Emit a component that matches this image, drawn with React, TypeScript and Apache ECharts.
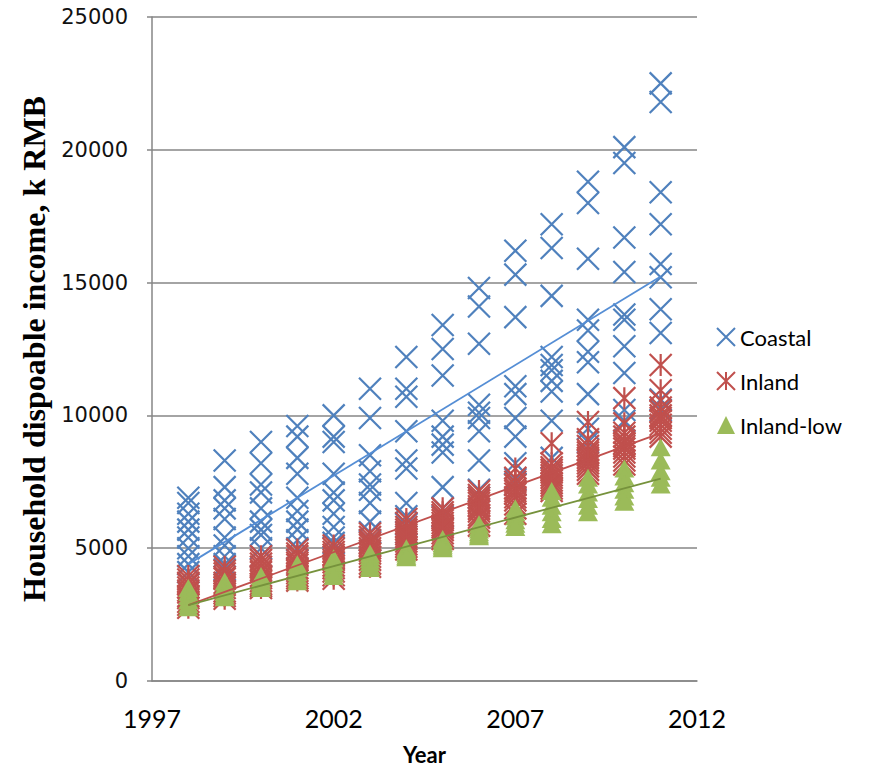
import React, { useEffect, useRef } from "react";
import * as echarts from "echarts";

// Survey years (one column of markers per year)
const years = [1998, 1999, 2000, 2001, 2002, 2003, 2004, 2005, 2006, 2007, 2008, 2009, 2010, 2011];

// Household disposable income by province group, k RMB (one row per year)
const coastal: number[][] = [
  [6900, 6700, 6300, 6000, 5700, 5400, 5000, 4700, 4400, 4100],
  [8300, 7300, 6800, 6500, 6100, 5400, 5100, 4700, 4400, 4200],
  [9000, 8200, 7400, 7100, 6500, 6000, 5700, 5500, 5000, 4700],
  [9600, 9200, 8400, 7800, 6900, 6400, 6000, 5700, 5300, 5000],
  [10000, 9200, 9000, 7800, 7100, 6800, 6300, 5800, 5400, 5200],
  [11000, 9900, 8500, 7900, 7400, 7200, 6700, 6000, 5600, 5300],
  [12200, 11000, 10700, 9400, 8300, 8000, 6700, 6200, 5900, 5600],
  [13400, 12500, 11500, 9800, 9200, 8900, 8600, 7300, 6500, 6200],
  [14800, 14100, 12700, 10400, 10100, 9900, 9400, 8300, 7200, 6900],
  [16200, 15300, 13700, 11100, 10800, 9900, 9200, 8200, 7600, 7400],
  [17200, 16300, 14500, 12200, 11900, 11700, 11300, 10900, 9800, 8400],
  [18800, 18000, 15900, 13600, 13200, 12400, 12000, 10800, 9500, 9000],
  [20100, 19500, 16700, 15400, 13800, 13600, 12600, 11600, 10200, 9800],
  [22500, 21800, 18400, 17200, 15700, 15200, 14000, 13100, 10600, 10200],
];

const inland: number[][] = [
  [3950, 3820, 3700, 3640, 3520, 3410, 3330, 3200, 3120, 2980, 2870, 2760],
  [4300, 4150, 4050, 3920, 3850, 3700, 3620, 3500, 3380, 3300, 3200, 3100],
  [4700, 4560, 4420, 4300, 4180, 4100, 3960, 3880, 3760, 3650, 3580, 3500],
  [4950, 4800, 4700, 4560, 4450, 4380, 4250, 4150, 4060, 3950, 3870, 3780],
  [5100, 4980, 4860, 4750, 4680, 4560, 4470, 4350, 4250, 4120, 3980, 3850],
  [5550, 5420, 5300, 5200, 5120, 5000, 4900, 4800, 4680, 4560, 4420, 4300],
  [6100, 5950, 5800, 5700, 5600, 5520, 5430, 5350, 5250, 5150, 5050, 4950],
  [6500, 6350, 6250, 6150, 6050, 5950, 5850, 5780, 5680, 5560, 5450, 5350],
  [7150, 7000, 6900, 6800, 6700, 6580, 6480, 6380, 6250, 6150, 6000, 5850],
  [8000, 7650, 7500, 7380, 7250, 7150, 7050, 6920, 6800, 6650, 6500, 6300],
  [8950, 8200, 8050, 7950, 7850, 7750, 7650, 7550, 7450, 7350, 7250, 7150],
  [9750, 9100, 8850, 8700, 8600, 8500, 8400, 8300, 8200, 8080, 7950, 7800],
  [10650, 9700, 9350, 9200, 9050, 8950, 8850, 8750, 8600, 8450, 8300, 8150],
  [11900, 10950, 10550, 10300, 10150, 10000, 9900, 9800, 9650, 9500, 9350, 9200],
];

const inlandLow: number[][] = [
  [3500, 3350, 3200, 3050, 2900, 2780],
  [3750, 3600, 3480, 3350, 3250, 3150],
  [3950, 3850, 3750, 3650, 3580, 3500],
  [4400, 4250, 4100, 3980, 3860, 3760],
  [4620, 4480, 4350, 4220, 4080, 3950],
  [4800, 4700, 4580, 4480, 4350, 4250],
  [5000, 4930, 4870, 4800, 4720, 4660],
  [5350, 5270, 5200, 5130, 5060, 5000],
  [5900, 5800, 5700, 5600, 5520, 5450],
  [6500, 6350, 6200, 6050, 5920, 5800],
  [7150, 6900, 6600, 6350, 6100, 5900],
  [7650, 7400, 7100, 6850, 6600, 6350],
  [8000, 7700, 7450, 7200, 6950, 6750],
  [8800, 8300, 7900, 7650, 7400],
];

// Linear trend lines, endpoints at the first and last survey year
const trendYears = [1998, 2011];
const coastalTrend = [4400, 15230];
const inlandTrend = [2860, 9330];
const inlandLowTrend = [2860, 7620];

const xTickLabels = [1997, 2002, 2007, 2012];

const BLUE = "#4F81BD";
const RED = "#C0504D";
const GREEN = "#9BBB59";

const toPoints = (rows: number[][]) =>
  years.flatMap((yr, i) => rows[i].map((v) => [yr, v]));
const toTrend = (vals: number[]) => trendYears.map((yr, i) => [yr, vals[i]]);

const CROSS = "path://M0,0L10,10M10,0L0,10";
const STAR = "path://M5,0L5,10M0,0L10,10M10,0L0,10";

const plain = (v: number) => String(v);

export default function App() {
  const ref = useRef<HTMLDivElement>(null);

  useEffect(() => {
    document.body.style.margin = "0";
    const chart = echarts.init(ref.current!, null, { renderer: "svg" });
    const axisGray = "#868686";
    chart.setOption({
      animation: false,
      backgroundColor: "#ffffff",
      grid: { left: 152, right: 178, top: 17, bottom: 89 },
      legend: {
        orient: "vertical",
        left: 711,
        top: 321,
        itemGap: 22,
        itemWidth: 18,
        itemHeight: 18,
        data: ["Coastal", "Inland", "Inland-low"],
        textStyle: { fontFamily: "Lato", fontSize: 22, color: "#000" },
      },
      xAxis: {
        type: "value",
        min: 1997,
        max: 2012,
        name: "Year",
        nameLocation: "middle",
        nameGap: 62,
        nameTextStyle: { fontFamily: "Lato", fontWeight: "bold", fontSize: 22, color: "#000" },
        axisLine: { show: true, lineStyle: { color: axisGray, width: 1.5 } },
        axisTick: { show: false },
        splitLine: { show: false },
        axisLabel: {
          customValues: xTickLabels,
          formatter: plain,
          margin: 24,
          fontFamily: "Lato",
          fontSize: 25,
          color: "#000",
        },
      },
      yAxis: {
        type: "value",
        min: 0,
        max: 25000,
        interval: 5000,
        name: "Household dispoable income, k RMB",
        nameLocation: "middle",
        nameRotate: 90,
        nameGap: 100,
        nameTextStyle: {
          fontFamily: "Liberation Serif",
          fontWeight: "bold",
          fontSize: 32,
          color: "#000",
        },
        axisLine: { show: true, lineStyle: { color: axisGray, width: 1.5 } },
        axisTick: { show: true, length: 5, lineStyle: { color: axisGray, width: 1.5 } },
        splitLine: { show: true, lineStyle: { color: axisGray, width: 1.5 } },
        axisLabel: {
          formatter: plain,
          margin: 24,
          fontFamily: "DejaVu Sans",
          fontSize: 21,
          color: "#111",
        },
      },
      series: [
        {
          name: "Coastal",
          type: "scatter",
          data: toPoints(coastal),
          symbol: CROSS,
          symbolSize: 22,
          itemStyle: { color: "rgba(0,0,0,0)", borderColor: BLUE, borderWidth: 2.2, opacity: 1 },
          z: 2,
        },
        {
          name: "Inland",
          type: "scatter",
          data: toPoints(inland),
          symbol: STAR,
          symbolSize: 22,
          itemStyle: { color: "rgba(0,0,0,0)", borderColor: RED, borderWidth: 2.2, opacity: 1 },
          z: 3,
        },
        {
          name: "Inland-low",
          type: "scatter",
          data: toPoints(inlandLow),
          symbol: "triangle",
          symbolSize: [20, 18],
          itemStyle: { color: GREEN, opacity: 1 },
          z: 4,
        },
        {
          name: "Coastal trend",
          type: "line",
          data: toTrend(coastalTrend),
          symbol: "none",
          lineStyle: { color: "#558ED5", width: 1.8 },
          z: 5,
        },
        {
          name: "Inland trend",
          type: "line",
          data: toTrend(inlandTrend),
          symbol: "none",
          lineStyle: { color: RED, width: 1.8 },
          z: 5,
        },
        {
          name: "Inland-low trend",
          type: "line",
          data: toTrend(inlandLowTrend),
          symbol: "none",
          lineStyle: { color: "#76923C", width: 1.8 },
          z: 5,
        },
      ],
    });
    return () => chart.dispose();
  }, []);

  return (
    <div
      ref={ref}
      style={{ position: "absolute", left: 0, top: 0, width: 875, height: 770 }}
    />
  );
}
